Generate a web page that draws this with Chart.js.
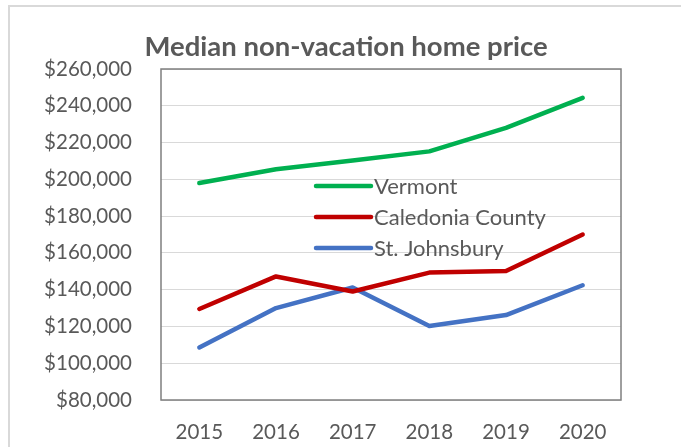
<!DOCTYPE html>
<html>
<head>
<meta charset="utf-8">
<script src="https://cdn.jsdelivr.net/npm/chart.js@4"></script>
<style>
    html, body { margin: 0; padding: 0; background: #fff; }
    #wrap { position: relative; width: 681px; height: 447px; overflow: hidden; }
    #frame { position: absolute; left: 8px; top: 5px; width: 700px; height: 470px; border: 2px solid #d9d9d9; }
    canvas { position: absolute; left: 0; top: 0; }
</style>
</head>
<body>
<div id="wrap">
    <div id="frame"></div>
    <canvas id="price-chart" width="681" height="447"></canvas>
</div>
<script>
const years = ["2015", "2016", "2017", "2018", "2019", "2020"];
const vermont = [198000, 205500, 210200, 215200, 228000, 244300];
const caledonia = [129500, 147200, 139000, 149300, 150100, 170000];
const stJohnsbury = [108600, 130000, 141200, 120200, 126200, 142400];
const chartTitle = "Median non-vacation home price";
const yMin = 80000;
const yMax = 260000;
const yStep = 20000;

const FONT = "Lato, 'Open Sans', sans-serif";
const TEXT = "#595959";

// Excel centres the title a bit left of the plot, so draw it ourselves
const offsetTitle = {
    id: "offsetTitle",
    afterDraw(chart, args, opts) {
        const ctx = chart.ctx;
        ctx.save();
        ctx.font = opts.font;
        ctx.fillStyle = opts.color;
        ctx.textAlign = "center";
        ctx.textBaseline = "middle";
        ctx.fillText(opts.text, opts.x, opts.y);
        ctx.restore();
    },
};

// legend drawn inside the plot
const insideLegend = {
    id: "insideLegend",
    afterDatasetsDraw(chart, args, opts) {
        const ctx = chart.ctx;
        const a = chart.chartArea;
        ctx.save();
        ctx.font = opts.font;
        ctx.textBaseline = "middle";
        ctx.textAlign = "left";
        chart.data.datasets.forEach((ds, i) => {
            const x = a.left + opts.left;
            const y = a.top + opts.top + i * opts.rowGap;
            ctx.strokeStyle = ds.borderColor;
            ctx.lineWidth = ds.borderWidth;
            ctx.lineCap = "round";
            ctx.beginPath();
            ctx.moveTo(x, y);
            ctx.lineTo(x + opts.lineLen, y);
            ctx.stroke();
            ctx.fillStyle = opts.color;
            ctx.fillText(ds.label, x + opts.lineLen + 3, y + 1);
        });
        ctx.restore();
    },
};

const plotBorder = {
    id: "plotBorder",
    beforeDatasetsDraw(chart, args, opts) {
        const a = chart.chartArea;
        const ctx = chart.ctx;
        ctx.save();
        ctx.strokeStyle = opts.color;
        ctx.lineWidth = opts.width;
        ctx.strokeRect(a.left, a.top, a.right - a.left, a.bottom - a.top);
        ctx.restore();
    },
};

function line(label, data, color) {
    return {
        label,
        data,
        borderColor: color,
        backgroundColor: color,
        borderWidth: 4.5,
        pointRadius: 0,
        tension: 0,
        borderJoinStyle: "round",
        borderCapStyle: "round",
    };
}

new Chart(document.getElementById("price-chart"), {
    type: "line",
    data: {
        labels: years,
        datasets: [
            line("Vermont", vermont, "#00b050"),
            line("Caledonia County", caledonia, "#c00000"),
            line("St. Johnsbury", stJohnsbury, "#4472c4"),
        ],
    },
    options: {
        responsive: false,
        animation: false,
        layout: { padding: { left: 5, right: 60, top: 69, bottom: 0 } },
        plugins: {
            legend: { display: false },
            tooltip: { enabled: false },
            title: { display: false },
            offsetTitle: {
                text: chartTitle, x: 346, y: 47,
                font: "bold 27.5px " + FONT, color: TEXT,
            },
            insideLegend: {
                left: 155, top: 117, rowGap: 31, lineLen: 55,
                font: "22px " + FONT, color: TEXT,
            },
            plotBorder: { color: "#7f7f7f", width: 1.5 },
        },
        scales: {
            x: {
                offset: true,
                grid: { display: false, drawTicks: false },
                border: { display: false },
                ticks: { color: TEXT, font: { family: FONT, size: 20.5 }, padding: 20, maxRotation: 0 },
                afterFit: (s) => { s.height = 47; },
            },
            y: {
                min: yMin,
                max: yMax,
                grid: { color: "#d9d9d9", lineWidth: 1, drawTicks: false },
                border: { display: false },
                ticks: {
                    stepSize: yStep,
                    color: TEXT,
                    font: { family: FONT, size: 20.5 },
                    padding: 29,
                    callback: (v) => "$" + v.toLocaleString("en-US"),
                },
                afterFit: (s) => { s.width = 156; },
            },
        },
    },
    plugins: [plotBorder, insideLegend, offsetTitle],
});
</script>
</body>
</html>
